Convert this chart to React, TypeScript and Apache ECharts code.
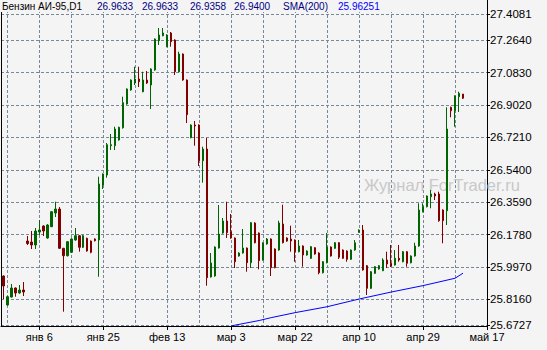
import React, { useEffect, useRef } from 'react';
import * as echarts from 'echarts';

// OHLC per bar (bar index 0..115)
const opens = [
  25.9467, 25.7847, 25.8294, 25.8796, 25.8517, 25.8685, 26.1422, 26.1366, 26.1199, 26.1925,
  26.2260, 26.1590, 26.2221, 26.2987, 26.3210, 26.1014, 26.0601, 26.0791, 26.1478, 26.1718,
  26.1070, 26.1573, 26.1422, 26.1534, 26.1478, 26.4551, 26.5110, 26.6747, 26.6747, 26.7065,
  26.7752, 26.9077, 26.9859, 27.0250, 27.0473, 26.9764, 27.0417, 27.0138, 27.0976, 27.2613,
  27.2892, 27.2278, 27.3043, 27.2652, 27.0881, 27.1870, 27.0417, 26.7194, 26.7903, 26.7903,
  26.5909, 26.6562, 25.9411, 25.9467, 26.1031, 26.1869, 26.2540, 26.1942, 26.1590, 26.0584,
  26.0752, 26.1031, 26.0210, 26.2428, 26.1869, 26.0361, 26.1255, 26.1534, 26.0975, 26.0919,
  26.2372, 26.1590, 26.1534, 26.1478, 26.0824, 26.1143, 26.0640, 26.0456, 26.1048, 26.0752,
  25.9651, 26.0210, 26.1087, 26.1014, 26.1327, 26.0919, 26.0864, 26.0400, 26.0919, 26.1908,
  26.2037, 26.0042, 25.8780, 25.9618, 25.9858, 25.9763, 26.0361, 26.0176, 26.0081, 26.0456,
  26.0266, 26.0824, 26.0210, 26.0584, 26.1143, 26.3059, 26.3339, 26.3897, 26.4048, 26.4048,
  26.3154, 26.3115, 26.8892, 26.8702, 26.9484, 26.9633,
];
const closes = [
  25.8908, 25.8310, 25.8796, 25.8517, 25.8685, 25.8573, 26.1283, 26.1199, 26.1981, 26.2037,
  26.1981, 26.2316, 26.3059, 26.3210, 26.1014, 26.0601, 26.1383, 26.1534, 26.1718, 26.1070,
  26.1718, 26.0864, 26.0791, 26.1439, 26.4607, 26.5166, 26.6803, 26.6803, 26.7680, 26.7775,
  26.9149, 26.9915, 27.0417, 27.0473, 27.0322, 27.0417, 27.0250, 27.1032, 27.2708, 27.2932,
  27.3043, 27.2932, 27.2557, 27.0881, 27.1870, 27.0417, 26.8479, 26.7903, 26.7847, 26.5909,
  26.6562, 25.9372, 26.0193, 26.1087, 26.1813, 26.2540, 26.1886, 26.1590, 26.0266, 26.0752,
  26.1031, 26.0210, 26.2445, 26.1327, 26.0322, 26.1311, 26.1534, 25.9931, 25.9931, 26.2428,
  26.1327, 26.1422, 26.1422, 26.0824, 26.1143, 26.0640, 26.0864, 26.1104, 26.0696, 25.9651,
  26.0266, 26.1087, 26.0584, 26.1327, 26.0512, 26.0456, 26.0400, 26.0919, 26.1327, 26.2037,
  25.9802, 25.8780, 25.9707, 25.9986, 26.0042, 26.0361, 26.0137, 26.0026, 26.0456, 26.0361,
  26.0824, 26.0176, 26.0584, 26.1143, 26.3154, 26.3339, 26.3936, 26.4048, 26.3936, 26.2556,
  26.2556, 26.7680, 26.8702, 26.9523, 26.9674, 26.9400,
];
const lows = [
  25.8182, 25.7800, 25.8260, 25.8310, 25.8480, 25.8349, 26.1199, 26.0975, 26.0975, 26.1758,
  26.1702, 26.1550, 26.2200, 26.2763, 26.0980, 25.7472, 26.0560, 26.0750, 26.1440, 26.0824,
  26.1030, 26.0830, 26.0735, 26.1400, 25.9428, 26.4328, 26.4959, 26.6506, 26.6506, 26.7030,
  26.7700, 26.9040, 26.9820, 27.0138, 27.0026, 26.9730, 27.0200, 26.8797, 27.0940, 27.2373,
  27.2860, 27.2250, 27.2278, 27.0697, 27.0850, 27.0380, 26.8015, 26.7160, 26.6747, 26.5613,
  26.4680, 25.8925, 25.9380, 25.9430, 26.1000, 26.1830, 26.1590, 26.1550, 25.9914, 26.0550,
  26.0720, 25.9707, 25.9914, 26.1290, 25.9841, 26.0330, 26.1220, 25.9467, 25.9900, 26.0880,
  26.1290, 26.1380, 26.0824, 26.0266, 26.0790, 25.9986, 26.0600, 26.0420, 26.0660, 25.9562,
  25.9610, 26.0170, 26.0550, 26.0980, 26.0417, 26.0420, 26.0266, 26.0360, 26.0880, 26.1880,
  25.9770, 25.8405, 25.8740, 25.9580, 25.9820, 25.9740, 25.9914, 25.9970, 26.0050, 26.0266,
  26.0230, 25.9986, 26.0170, 26.0550, 26.1100, 26.3020, 26.3300, 26.3249, 26.3713, 26.2500,
  26.1294, 26.2316, 26.8333, 26.7808, 26.8630, 26.9358,
];
const highs = [
  25.9500, 25.8360, 25.9020, 25.8830, 25.8964, 25.9132, 26.1702, 26.1981, 26.2149, 26.2596,
  26.2300, 26.2370, 26.3100, 26.3618, 26.3322, 26.1040, 26.1420, 26.1570, 26.2149, 26.1750,
  26.1760, 26.1610, 26.1450, 26.1570, 26.5015, 26.5200, 26.6898, 26.7400, 26.7808, 26.7810,
  26.9484, 26.9950, 27.0450, 27.1160, 27.1160, 27.0881, 27.0920, 27.1070, 27.2740, 27.3323,
  27.3323, 27.2980, 27.3100, 27.2690, 27.1999, 27.1900, 27.0450, 26.7940, 26.8127, 26.7940,
  26.6691, 26.7177, 26.0752, 26.1120, 26.3434, 26.2707, 26.3618, 26.2931, 26.1620, 26.0790,
  26.2093, 26.1060, 26.2480, 26.2470, 26.1900, 26.1350, 26.1590, 26.1570, 26.1010, 26.2556,
  26.3450, 26.1630, 26.2277, 26.1510, 26.1478, 26.1180, 26.0900, 26.1140, 26.1080, 26.0790,
  26.0300, 26.1869, 26.1120, 26.1360, 26.1360, 26.0950, 26.0900, 26.0950, 26.1478, 26.2070,
  26.2316, 26.0080, 25.9740, 26.0020, 26.0080, 26.0456, 26.0824, 26.1199, 26.0919, 26.1199,
  26.0860, 26.0860, 26.0620, 26.1327, 26.3529, 26.3529, 26.3970, 26.4272, 26.4120, 26.4177,
  26.3190, 26.8892, 26.8930, 26.9560, 26.9764, 26.9633,
];

// SMA(200) read at a few bars
const smaIdx = [57, 64, 67, 73, 81, 89, 97, 105, 113, 115];
const smaVal = [25.668, 25.698, 25.714, 25.742, 25.775, 25.818, 25.857, 25.893, 25.934, 25.9625];

// axis labels
const xLabelIdx = [9, 25, 41, 57, 73, 89, 105, 121];
const xLabelText = ['янв 6', 'янв 25', 'фев 13', 'мар 3', 'мар 22', 'апр 10', 'апр 29', 'май 17'];
const xGridIdx = [1, 9, 17, 25, 33, 41, 49, 57, 65, 73, 81, 89, 97, 105, 113];
const yTicks = [25.6727, 25.816, 25.997, 26.178, 26.359, 26.54, 26.721, 26.902, 27.083, 27.264, 27.4081];

const titleName = 'Бензин АИ-95,D1';
const titleOHLC = ['26.9633', '26.9633', '26.9358', '26.9400'];
const smaName = 'SMA(200)';
const smaLast = '25.96251';
const watermark = 'Журнал ForTrader.ru';

const Y_MIN = 25.6674;
const Y_MAX = 27.4887;
const X_MIN = -0.575;
const X_MAX = 121;

const FONT = '"Liberation Sans", Arial, sans-serif';
const GRID_COLOR = '#778899';
const BG = '#f4f4f4';
const BULL = '#006400';
const BEAR = '#800000';

export default function App() {
  const ref = useRef<HTMLDivElement>(null);
  useEffect(() => {
    if (!ref.current) return;
    const chart = echarts.init(ref.current, null, { renderer: 'svg' });
    const candles = opens.map((o, i) => [i, o, closes[i], lows[i], highs[i]]);
    const sma = smaIdx.map((x, i) => [x, smaVal[i]]);
    const titleX = [97, 142, 190, 234];
    chart.setOption({
      animation: false,
      backgroundColor: BG,
      textStyle: { fontFamily: FONT },
      grid: { left: 1, right: 60, top: 0, bottom: 24, containLabel: false },
      xAxis: [
        {
          type: 'value', min: X_MIN, max: X_MAX, position: 'bottom',
          axisLine: { show: true, onZero: false, lineStyle: { color: '#000', width: 1 } },
          axisTick: { show: true, customValues: xLabelIdx, length: 4, lineStyle: { color: '#000' } },
          axisLabel: {
            customValues: xLabelIdx, color: '#000', fontSize: 11, margin: 5, fontFamily: FONT,
            formatter: (v: number) => xLabelText[xLabelIdx.indexOf(Math.round(v))] ?? '',
          },
          splitLine: { show: false },
        },
        {
          type: 'value', min: X_MIN, max: X_MAX, position: 'top',
          axisLine: { show: false, onZero: false },
          axisTick: { show: false, customValues: xGridIdx },
          axisLabel: { show: false, customValues: xGridIdx },
          splitLine: { show: true, lineStyle: { color: GRID_COLOR, width: 1, type: [3, 2] } },
        },
      ],
      yAxis: [
        {
          type: 'value', min: Y_MIN, max: Y_MAX, position: 'right',
          axisLine: { show: true, onZero: false, lineStyle: { color: '#000', width: 1 } },
          axisTick: { show: true, customValues: yTicks, length: 3, lineStyle: { color: '#000' } },
          axisLabel: {
            customValues: yTicks, color: '#000', fontSize: 11.5, margin: 3, fontFamily: FONT,
            formatter: (v: number) => v.toFixed(4),
          },
          splitLine: { show: true, lineStyle: { color: GRID_COLOR, width: 1, type: [3, 2] } },
        },
        {
          type: 'value', min: Y_MIN, max: Y_MAX, position: 'left',
          axisLine: { show: true, onZero: false, lineStyle: { color: '#000', width: 1 } },
          axisTick: { show: false },
          axisLabel: { show: false },
          splitLine: { show: false },
        },
      ],
      series: [
        {
          type: 'candlestick',
          xAxisIndex: 0, yAxisIndex: 0,
          barWidth: 2,
          data: candles,
          itemStyle: {
            color: BULL, color0: BEAR, borderColor: BULL, borderColor0: BEAR,
            borderColorDoji: BEAR, borderWidth: 1,
          },
        },
        {
          type: 'line',
          xAxisIndex: 0, yAxisIndex: 0,
          data: sma,
          showSymbol: false,
          lineStyle: { color: '#0000ff', width: 1 },
          clip: true,
          z: 3,
        },
      ],
      graphic: [
        { type: 'rect', z: 50, shape: { x: 1, y: 0, width: 485, height: 12 }, style: { fill: BG } },
        {
          type: 'text', z: 51, x: 2, y: 6,
          style: { text: titleName, fill: '#000', font: `10px ${FONT}`, verticalAlign: 'middle' },
        },
        ...titleOHLC.map((t, i) => ({
          type: 'text', z: 51, x: titleX[i], y: 6,
          style: { text: t, fill: '#000080', font: `10px ${FONT}`, verticalAlign: 'middle' },
        })),
        {
          type: 'text', z: 51, x: 283, y: 6,
          style: { text: smaName, fill: '#000080', font: `10px ${FONT}`, verticalAlign: 'middle' },
        },
        {
          type: 'text', z: 51, x: 338, y: 6,
          style: { text: smaLast, fill: '#0000ff', font: `10px ${FONT}`, verticalAlign: 'middle' },
        },
        {
          type: 'text', z: 1, x: 364, y: 184.5,
          style: { text: watermark, fill: '#c8c8c8', font: `16.5px ${FONT}`, verticalAlign: 'middle' },
        },
      ],
    });
    return () => chart.dispose();
  }, []);
  return <div ref={ref} style={{ position: 'absolute', left: 0, top: 0, width: 547, height: 350 }} />;
}
